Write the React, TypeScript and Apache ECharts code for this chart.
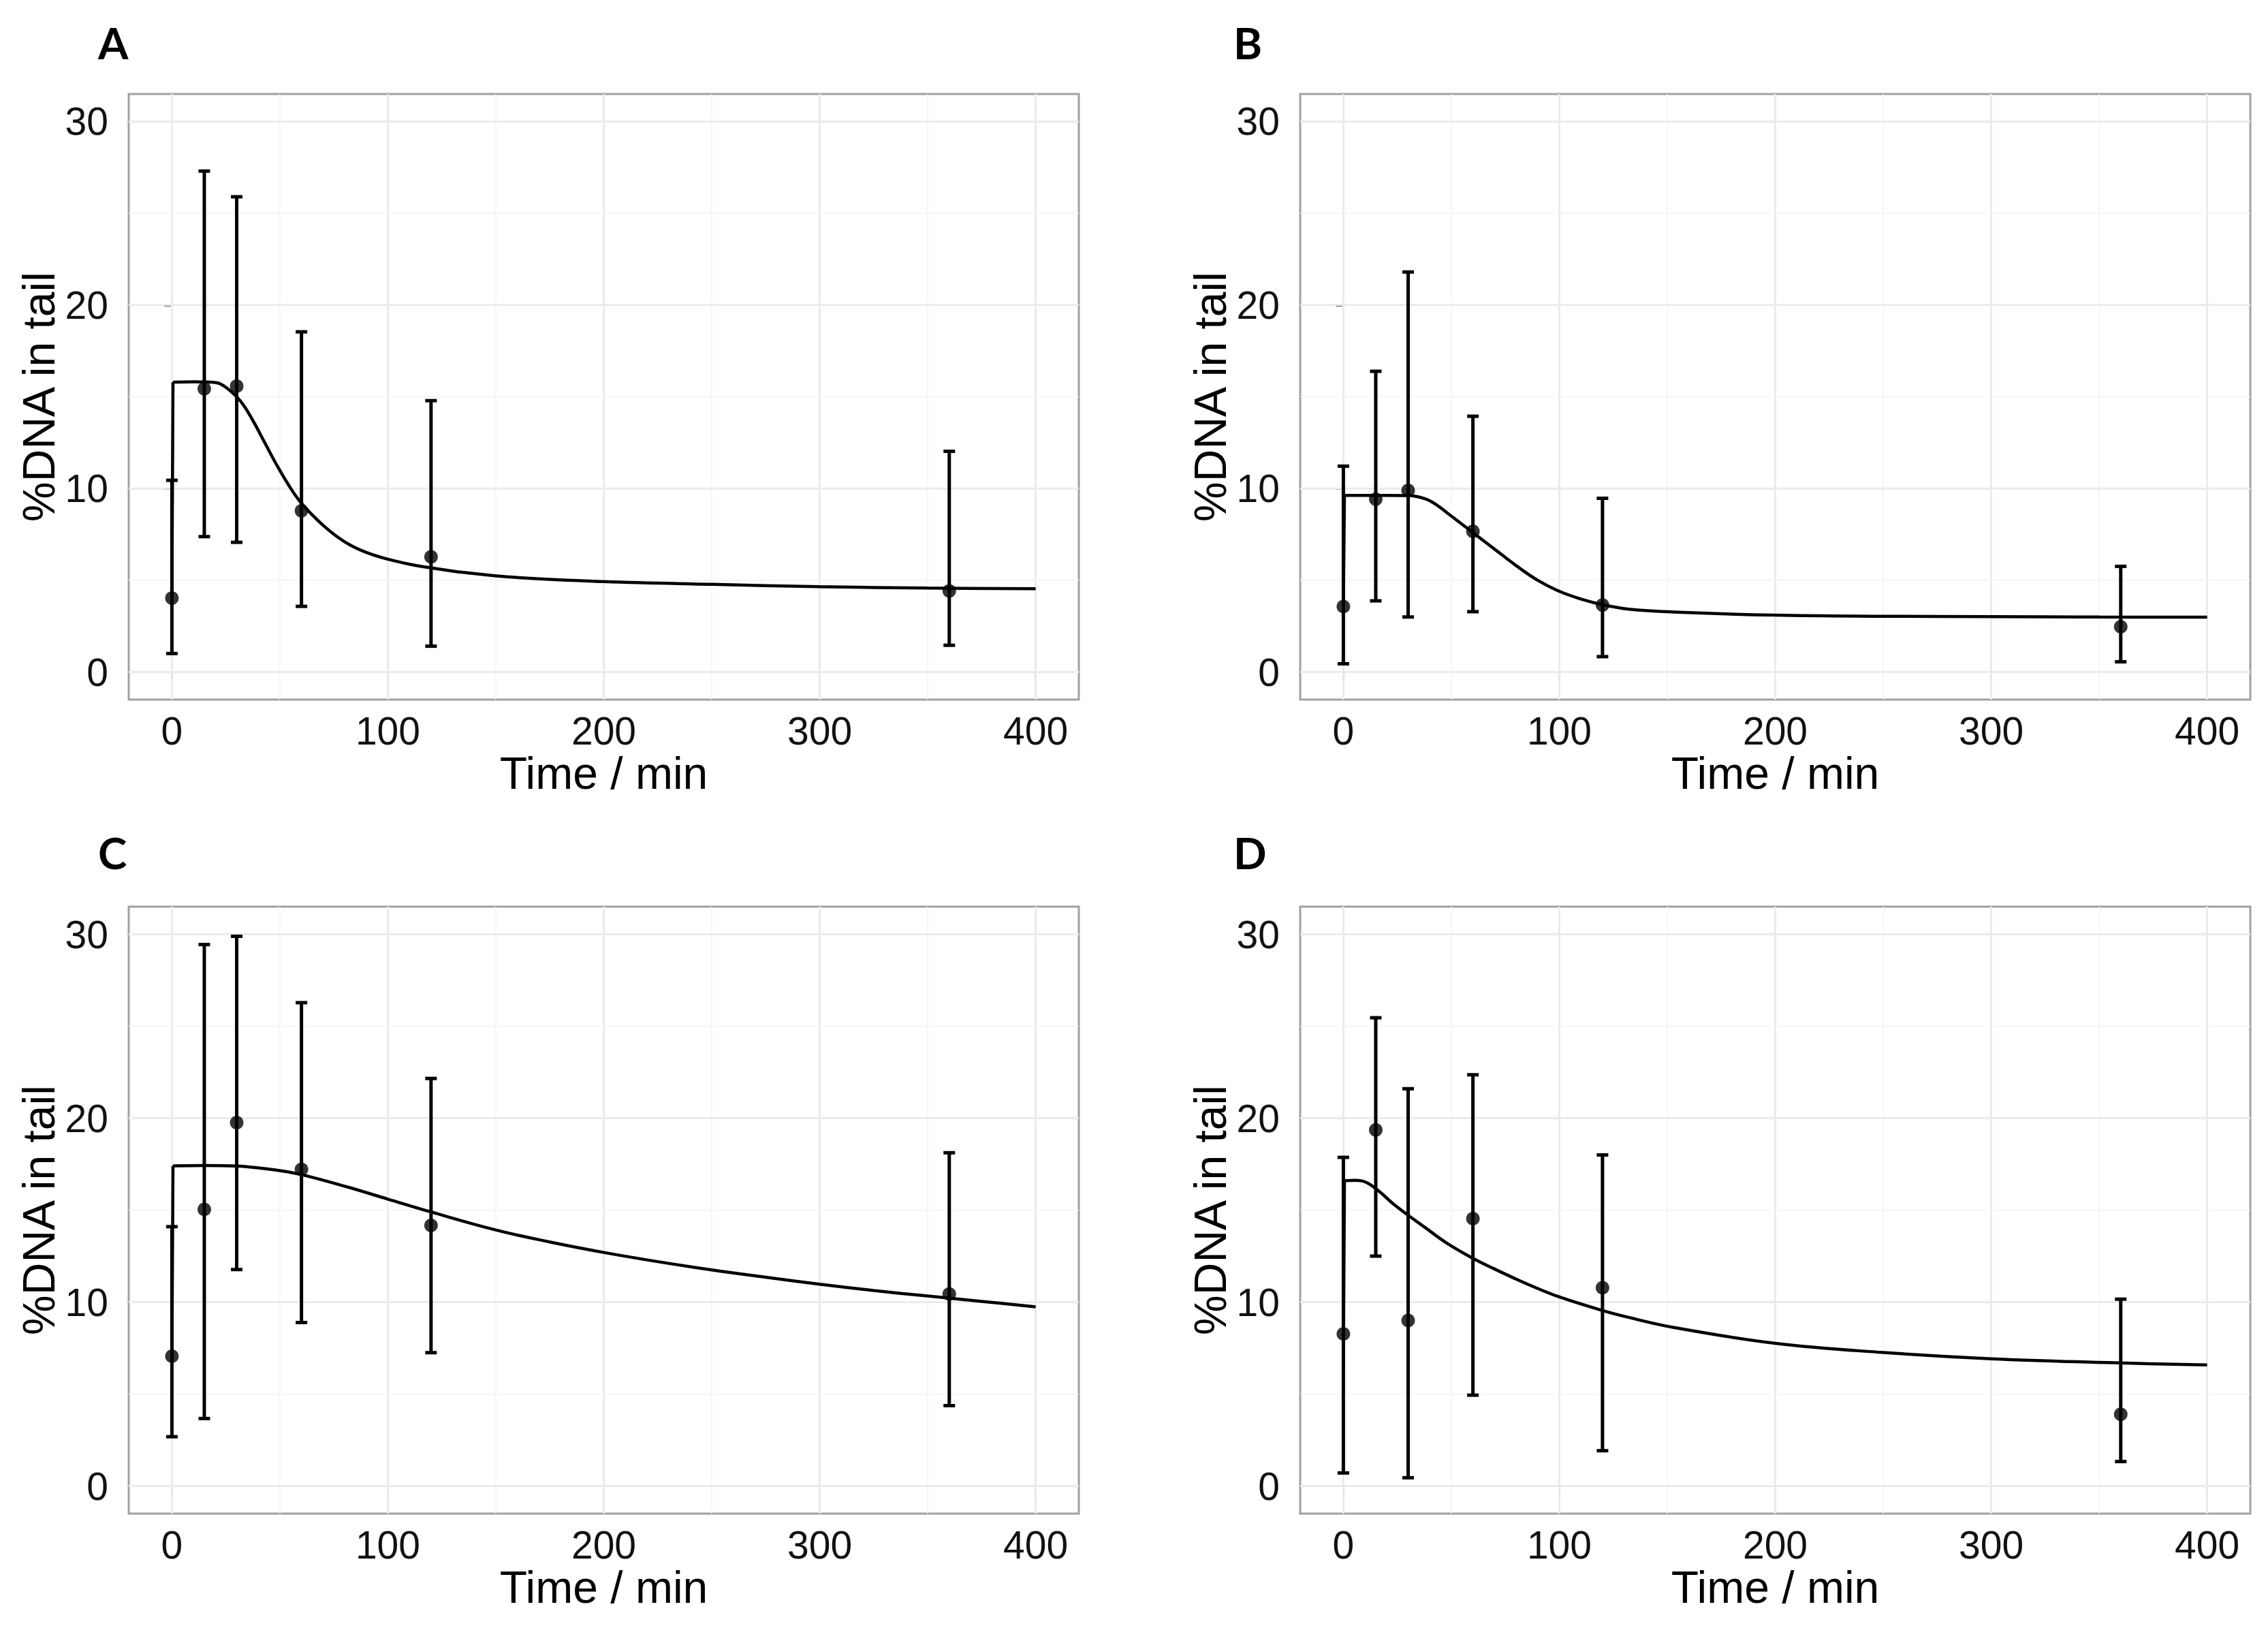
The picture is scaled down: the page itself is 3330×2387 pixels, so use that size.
import * as echarts from "echarts";
import React, { useEffect, useRef } from "react";

// sampling times (min) shared by all four panels
const timePoints = [0, 15, 30, 60, 120, 360];

const meanA = [4.03, 15.44, 15.58, 8.79, 6.28, 4.42];
const lowA = [1.01, 7.38, 7.07, 3.58, 1.41, 1.46];
const highA = [10.45, 27.3, 25.9, 18.54, 14.79, 12.03];
const fitA: [number, number][] = [
  [0, 4.0], [0.5, 15.8], [10, 15.82], [20, 15.78], [24, 15.6], [30, 15.0], [34, 14.4],
  [38, 13.6], [43, 12.5], [48, 11.4], [54, 10.2], [60, 9.2], [70, 8.0], [80, 7.1],
  [90, 6.52], [100, 6.15], [110, 5.88], [120, 5.68], [135, 5.43], [160, 5.15], [200, 4.93],
  [250, 4.78], [300, 4.65], [350, 4.58], [400, 4.54],
];

const meanB = [3.57, 9.42, 9.9, 7.67, 3.65, 2.47];
const lowB = [0.45, 3.88, 3.0, 3.29, 0.84, 0.56];
const highB = [11.22, 16.39, 21.8, 13.94, 9.47, 5.76];
const fitB: [number, number][] = [
  [0, 3.55], [0.5, 9.63], [15, 9.63], [30, 9.62], [38, 9.44], [43, 9.12], [48, 8.68],
  [55, 8.05], [60, 7.6], [70, 6.7], [80, 5.8], [90, 5.0], [100, 4.4], [110, 3.98],
  [120, 3.67], [132, 3.43], [153, 3.27], [200, 3.1], [250, 3.04], [300, 3.02],
  [350, 3.0], [400, 2.99],
];

const meanC = [7.06, 15.04, 19.76, 17.22, 14.17, 10.44];
const lowC = [2.68, 3.67, 11.77, 8.89, 7.25, 4.37];
const highC = [14.1, 29.44, 29.89, 26.28, 22.16, 18.12];
const fitC: [number, number][] = [
  [0, 7.0], [0.5, 17.41], [15, 17.43], [30, 17.4], [40, 17.3], [50, 17.15], [60, 16.93],
  [80, 16.3], [100, 15.6], [120, 14.9], [150, 13.92], [175, 13.27], [200, 12.7],
  [225, 12.2], [250, 11.75], [275, 11.35], [300, 10.97], [325, 10.63], [350, 10.33],
  [375, 10.04], [400, 9.74],
];

const meanD = [8.27, 19.36, 9.0, 14.54, 10.78, 3.9];
const lowD = [0.71, 12.5, 0.45, 4.94, 1.92, 1.33];
const highD = [17.87, 25.46, 21.6, 22.36, 18.0, 10.16];
const fitD: [number, number][] = [
  [0, 6.4], [0.5, 16.6], [5, 16.62], [9, 16.58], [12, 16.42], [17, 15.98], [23, 15.35],
  [30, 14.72], [38, 14.04], [48, 13.2], [60, 12.38], [70, 11.8], [80, 11.25], [90, 10.74],
  [100, 10.28], [120, 9.54], [132, 9.17], [153, 8.62], [200, 7.76], [250, 7.26],
  [300, 6.92], [360, 6.69], [400, 6.58],
];

const xTicks = [0, 100, 200, 300, 400];
const xMinor = [50, 150, 250, 350];
const yTicks = [0, 10, 20, 30];
const yMinor = [5, 15, 25];

const panels = [
  { label: "A", mean: meanA, low: lowA, high: highA, fit: fitA },
  { label: "B", mean: meanB, low: lowB, high: highB, fit: fitB },
  { label: "C", mean: meanC, low: lowC, high: highC, fit: fitC },
  { label: "D", mean: meanD, low: lowD, high: highD, fit: fitD },
];

const boxes = [
  { left: 189, top: 138, height: 889, labelX: 144, labelY: 62 },
  { left: 1909, top: 138, height: 889, labelX: 1811, labelY: 62 },
  { left: 189, top: 1331, height: 891, labelX: 144, labelY: 1251 },
  { left: 1909, top: 1331, height: 891, labelX: 1811, labelY: 1251 },
];
const gridWidth = 1395;

const FONT = "'Liberation Sans', Arial, Helvetica, sans-serif";

const App: React.FC = () => {
  const chartRef = useRef<HTMLDivElement | null>(null);

  useEffect(() => {
    document.body.style.margin = "0";
    if (!chartRef.current) return;
    const chart = echarts.init(chartRef.current, undefined, { renderer: "svg" });

    const grids: any[] = [];
    const xAxes: any[] = [];
    const yAxes: any[] = [];
    const series: any[] = [];
    const graphics: any[] = [];

    panels.forEach((p, i) => {
      const b = boxes[i];
      grids.push({
        left: b.left,
        top: b.top,
        width: gridWidth,
        height: b.height,
        show: true,
        borderColor: "#A0A0A0",
        borderWidth: 3,
        backgroundColor: "#fff",
      });
      xAxes.push({
        gridIndex: i,
        type: "value",
        min: -20,
        max: 420,
        splitLine: { show: false },
        axisLine: { show: false },
        axisTick: { show: true, customValues: xTicks, length: 11, lineStyle: { color: "#333", width: 3 } },
        axisLabel: { customValues: xTicks, fontSize: 57, color: "#111", fontFamily: FONT, margin: 17 },
        name: "Time / min",
        nameLocation: "middle",
        nameGap: 72,
        nameTextStyle: { fontSize: 66, color: "#000", fontFamily: FONT },
      });
      yAxes.push({
        gridIndex: i,
        type: "value",
        min: -1.5,
        max: 31.5,
        splitLine: { show: false },
        axisLine: { show: false },
        axisTick: { show: true, customValues: yTicks, length: 11, lineStyle: { color: "#333", width: 3 } },
        axisLabel: { customValues: yTicks, fontSize: 57, color: "#111", fontFamily: FONT, margin: 30 },
        name: "%DNA in tail",
        nameLocation: "middle",
        nameGap: 99,
        nameTextStyle: { fontSize: 66, color: "#000", fontFamily: FONT },
      });

      const gridLines = [
        ...xTicks.map((v) => [v, 0, 1]),
        ...xMinor.map((v) => [v, 0, 0]),
        ...yTicks.map((v) => [v, 1, 1]),
        ...yMinor.map((v) => [v, 1, 0]),
      ];
      series.push({
        type: "custom",
        xAxisIndex: i,
        yAxisIndex: i,
        silent: true,
        z: 1,
        data: gridLines,
        renderItem: (params: any, api: any) => {
          const cs = params.coordSys;
          const v = api.value(0);
          const isY = api.value(1) === 1;
          const major = api.value(2) === 1;
          const style = { stroke: major ? "#EBEBEB" : "#F4F4F4", lineWidth: major ? 3 : 1.6 };
          if (isY) {
            const y = api.coord([0, v])[1];
            return { type: "line", shape: { x1: cs.x, y1: y, x2: cs.x + cs.width, y2: y }, style };
          }
          const x = api.coord([v, 0])[0];
          return { type: "line", shape: { x1: x, y1: cs.y, x2: x, y2: cs.y + cs.height }, style };
        },
      });

      // fitted curve: vertical rise at t=0 drawn straight, the rest smoothed
      series.push({
        type: "line",
        xAxisIndex: i,
        yAxisIndex: i,
        data: p.fit.slice(0, 2),
        showSymbol: false,
        silent: true,
        z: 3,
        lineStyle: { color: "#000", width: 4.5 },
      });
      series.push({
        type: "line",
        xAxisIndex: i,
        yAxisIndex: i,
        data: p.fit.slice(1),
        showSymbol: false,
        smooth: 0.4,
        silent: true,
        z: 3,
        lineStyle: { color: "#000", width: 4.5 },
      });

      series.push({
        type: "custom",
        xAxisIndex: i,
        yAxisIndex: i,
        silent: true,
        z: 4,
        encode: { x: 0, y: [1, 2] },
        data: timePoints.map((t, j) => [t, p.low[j], p.high[j]]),
        renderItem: (_params: any, api: any) => {
          const t = api.value(0);
          const lo = api.coord([t, api.value(1)]);
          const hi = api.coord([t, api.value(2)]);
          const hw = 8.5;
          const style = { stroke: "#000", lineWidth: 5 };
          return {
            type: "group",
            children: [
              { type: "line", shape: { x1: lo[0], y1: lo[1], x2: hi[0], y2: hi[1] }, style },
              { type: "line", shape: { x1: lo[0] - hw, y1: lo[1], x2: lo[0] + hw, y2: lo[1] }, style },
              { type: "line", shape: { x1: hi[0] - hw, y1: hi[1], x2: hi[0] + hw, y2: hi[1] }, style },
            ],
          };
        },
      });

      series.push({
        type: "scatter",
        xAxisIndex: i,
        yAxisIndex: i,
        silent: true,
        z: 5,
        symbolSize: 20,
        itemStyle: { color: "#000" },
        data: timePoints.map((t, j) => [t, p.mean[j]]),
      });

      graphics.push({
        type: "text",
        x: b.labelX,
        y: b.labelY,
        style: {
          text: p.label,
          fontSize: 64,
          fontWeight: "bold",
          fontFamily: "Lato, 'Open Sans', sans-serif",
          fill: "#000",
          textVerticalAlign: "middle",
        },
      });
    });

    chart.setOption({
      animation: false,
      backgroundColor: "#fff",
      grid: grids,
      xAxis: xAxes,
      yAxis: yAxes,
      series,
      graphic: graphics,
    });

    const handleResize = () => chart.resize();
    window.addEventListener("resize", handleResize);
    return () => {
      window.removeEventListener("resize", handleResize);
      chart.dispose();
    };
  }, []);

  return <div ref={chartRef} style={{ width: "3330px", height: "2387px" }} />;
};

export default App;
